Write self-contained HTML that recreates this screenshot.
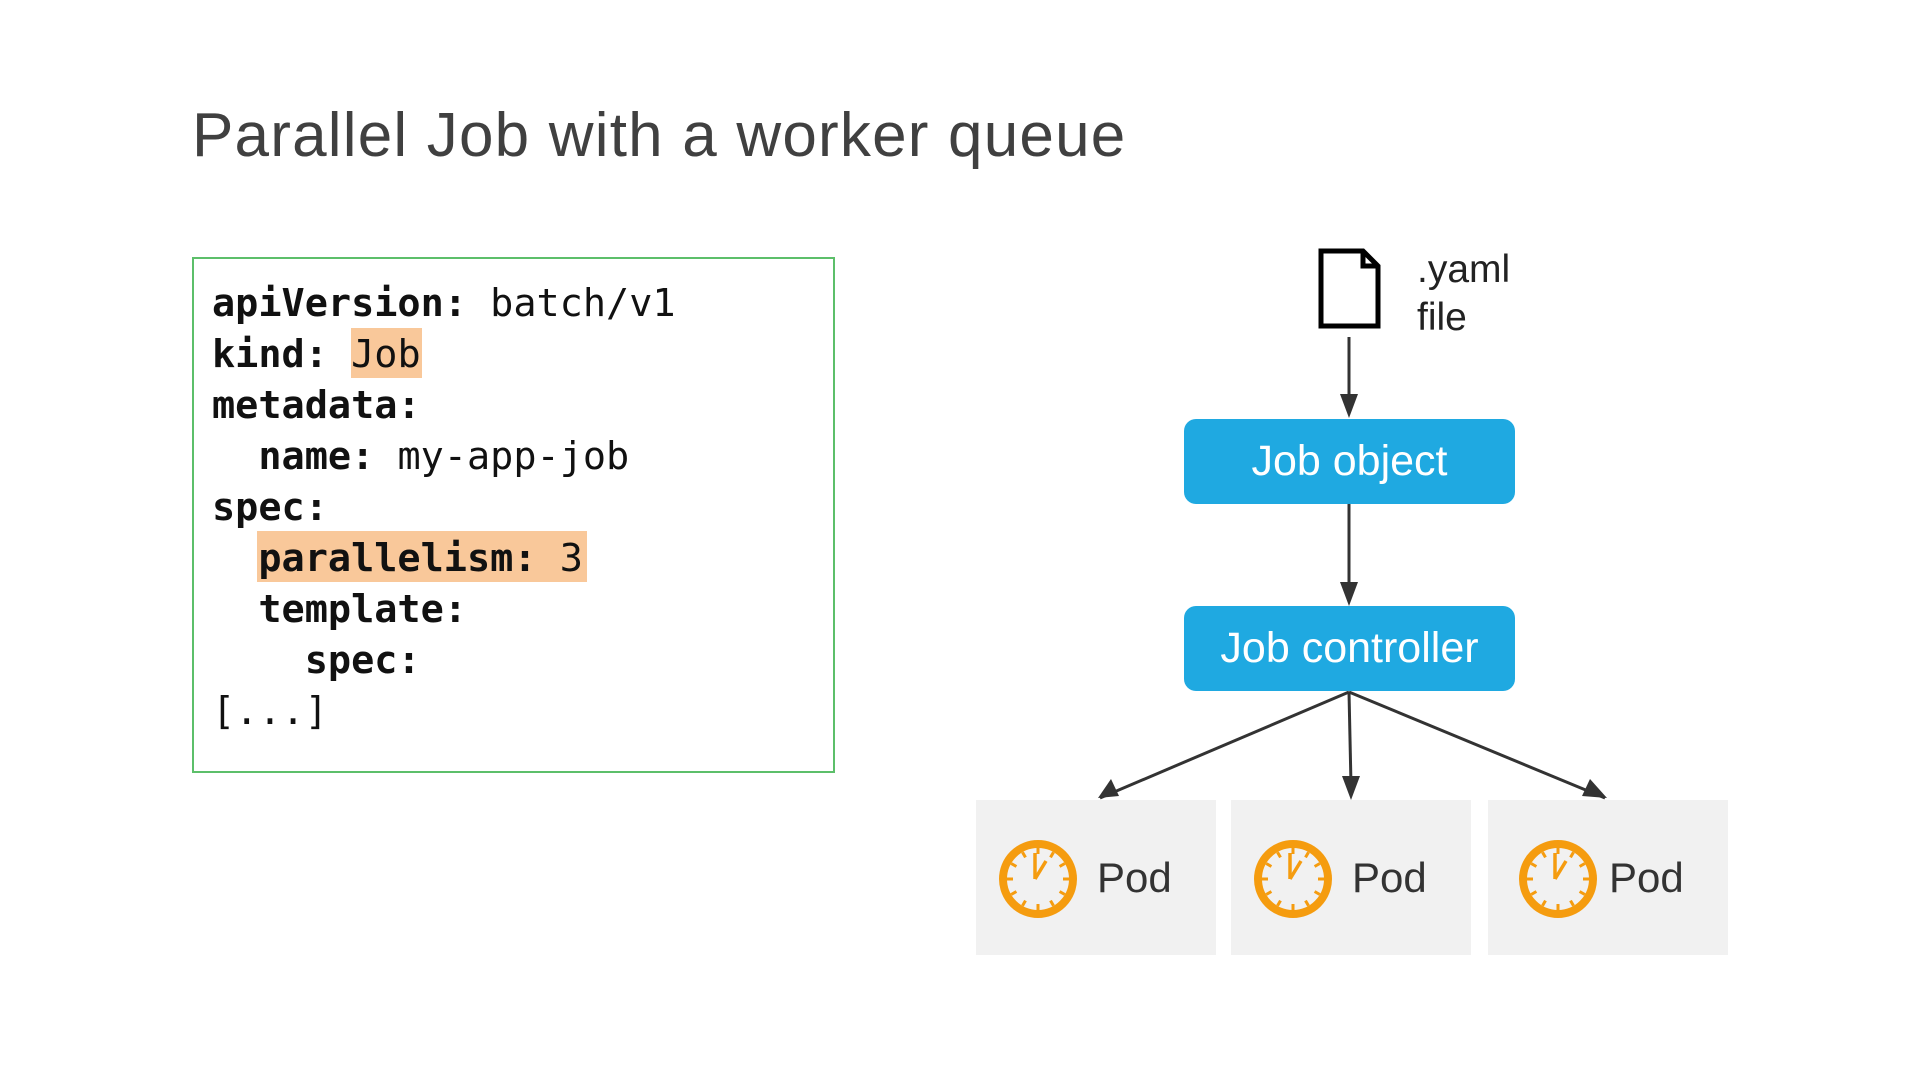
<!DOCTYPE html>
<html><head><meta charset="utf-8"><style>
body{margin:0;width:1920px;height:1080px;background:#fff;position:relative;overflow:hidden;font-family:"Liberation Sans",sans-serif}
.t{position:absolute;white-space:pre}
.code{position:absolute;left:212px;font-family:"DejaVu Sans Mono","Liberation Mono",monospace;font-size:38.5px;color:#111;white-space:pre;line-height:51px}
.hl{position:absolute;background:#f9c89a}
.box{position:absolute;background:#1fa9e1;border-radius:12px;color:#fff;font-size:43px;text-align:center}
.pod{position:absolute;top:800px;width:240px;height:155px;background:#f1f1f1}
</style></head><body>
<div class="t" style="left:192px;top:100px;font-size:62px;letter-spacing:1.2px;color:#404040">Parallel Job with a worker queue</div>
<div style="position:absolute;left:192px;top:257px;width:639px;height:512px;border:2px solid #5cbf6a"></div>
<div class="hl" style="left:351px;top:328px;width:71px;height:50px"></div>
<div class="hl" style="left:257px;top:531px;width:330px;height:51px"></div>
<div class="code" style="top:278px"><b>apiVersion:</b> batch/v1
<b>kind:</b> Job
<b>metadata:</b>
  <b>name:</b> my-app-job
<b>spec:</b>
  <b>parallelism:</b> 3
  <b>template:</b>
    <b>spec:</b>
[...]</div>
<svg style="position:absolute;left:0;top:0" width="1920" height="1080">
<path d="M1321,251 H1363 L1378,266 V326 H1321 Z M1363,251 V266 H1378" fill="none" stroke="#000" stroke-width="5"/>
<g stroke="#333" stroke-width="3" fill="none">
<line x1="1349" y1="337" x2="1349" y2="400"/>
<line x1="1349" y1="504" x2="1349" y2="590"/>
<line x1="1349" y1="692" x2="1100" y2="798"/>
<line x1="1349" y1="692" x2="1351" y2="785"/>
<line x1="1349" y1="692" x2="1605" y2="798"/>
</g>
<g fill="#333">
<path d="M1340,394 L1358,394 L1349,418z"/>
<path d="M1340,582 L1358,582 L1349,606z"/>
<path d="M1342,776 L1360,776 L1351,800z"/>
<path d="M1098,798 L1111,779 L1119,796z"/>
<path d="M1607,798 L1582,796 L1590,779z"/>
</g>
</svg>
<div class="t" style="left:1417px;top:246px;font-size:39px;color:#222;line-height:48px">.yaml
file</div>
<div class="box" style="left:1184px;top:419px;width:331px;height:85px;line-height:85px">Job object</div>
<div class="box" style="left:1184px;top:606px;width:331px;height:85px;line-height:85px">Job controller</div>
<div class="pod" style="left:976px"></div>
<div class="pod" style="left:1231px"></div>
<div class="pod" style="left:1488px"></div>
<svg style="position:absolute;left:0;top:0" width="1920" height="1080">
<defs><g id="c"><circle r="35" fill="none" stroke="#f59c0f" stroke-width="8"/>
<g stroke="#f59c0f" stroke-width="3">
<line x1="0" y1="-31" x2="0" y2="-25"/><line x1="0" y1="31" x2="0" y2="25"/><line x1="-31" y1="0" x2="-25" y2="0"/><line x1="31" y1="0" x2="25" y2="0"/>
<line x1="15.5" y1="-26.8" x2="12.5" y2="-21.6"/><line x1="26.8" y1="-15.5" x2="21.6" y2="-12.5"/><line x1="26.8" y1="15.5" x2="21.6" y2="12.5"/><line x1="15.5" y1="26.8" x2="12.5" y2="21.6"/>
<line x1="-15.5" y1="-26.8" x2="-12.5" y2="-21.6"/><line x1="-26.8" y1="-15.5" x2="-21.6" y2="-12.5"/><line x1="-26.8" y1="15.5" x2="-21.6" y2="12.5"/><line x1="-15.5" y1="26.8" x2="-12.5" y2="21.6"/>
<line x1="-3" y1="0" x2="-3" y2="-26" stroke-width="3.5"/><line x1="-3" y1="0" x2="8" y2="-18" stroke-width="3.5"/></g></g></defs>
<use href="#c" x="1038" y="879"/><use href="#c" x="1293" y="879"/><use href="#c" x="1558" y="879"/>
</svg>
<div class="t" style="left:1097px;top:854px;font-size:42px;color:#333">Pod</div>
<div class="t" style="left:1352px;top:854px;font-size:42px;color:#333">Pod</div>
<div class="t" style="left:1609px;top:854px;font-size:42px;color:#333">Pod</div>
</body></html>
